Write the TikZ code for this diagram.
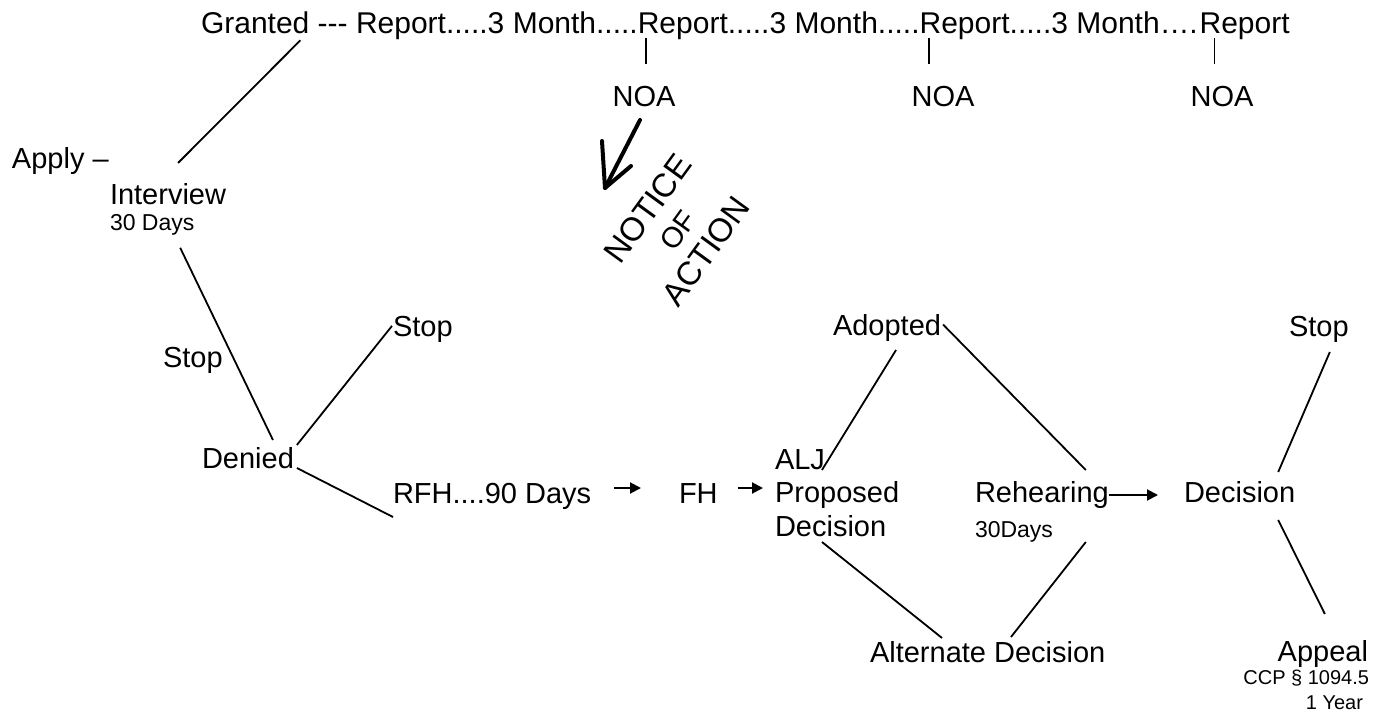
\documentclass[tikz,border=0pt]{standalone}
\usepackage{fontspec}
\setmainfont{Liberation Sans}
\newfontfamily\handfont{Liberation Sans}
\usetikzlibrary{calc,arrows.meta}

\tikzset{
  lbl/.style={inner sep=0pt, outer sep=0pt, anchor=base west, font=\fontsize{29}{33}\selectfont},
  toprow/.style={lbl, font=\fontsize{30}{34}\selectfont},
  sm/.style={lbl, font=\fontsize{23}{26}\selectfont},
  xs/.style={lbl, anchor=base east, font=\fontsize{20}{23}\selectfont},
  link/.style={line width=1.8pt},
  arr/.style={line width=2pt, -{Triangle[length=11pt,width=11pt]}},
  hand/.style={inner sep=0pt, align=center, font=\handfont\fontsize{33}{36}\selectfont},
  ink/.style={line width=4pt, line cap=round, line join=round},
}

\begin{document}
\begin{tikzpicture}[x=1pt,y=-1pt]
\useasboundingbox (0,0) rectangle (1376,715);
\fill[white] (0,0) rectangle (1376,715);

% --- reporting cycle after the grant
\node[toprow] (granted) at (201,33) {Granted};
\node[toprow] (seg0) at (granted.base east) {\ \mbox{-}\mbox{-}\mbox{-} Report.....3 Month.....};
\node[toprow] (rep1) at (seg0.base east) {Report};
\node[toprow] (seg1) at (rep1.base east) {.....3 Month.....};
\node[toprow] (rep2) at (seg1.base east) {Report};
\node[toprow] (seg2) at (rep2.base east) {.....3 Month\hspace{1.5pt}.\hspace{1pt}.\hspace{1pt}.\hspace{1pt}.};
\node[toprow] (rep3) at ($(seg2.base east)+(2,0)$) {Report};

\node[lbl, anchor=base] (noa1) at (644,106) {NOA};
\node[lbl, anchor=base] (noa2) at (943,106) {NOA};
\node[lbl, anchor=base] (noa3) at (1222,106) {NOA};

\coordinate (t1) at ($(rep1.base west)+(8,5)$);
\coordinate (t2) at ($(rep2.base west)+(9,5)$);
\coordinate (t3) at ($(rep3.base west)+(15,5)$);
\draw[link, shorten >=22pt] (t1) -- (t1 |- noa1.north);
\draw[link, shorten >=22pt] (t2) -- (t2 |- noa2.north);
\draw[link, shorten >=22pt] (t3) -- (t3 |- noa3.north);

% --- application and denial branch
\node[lbl] (apply) at (12,168) {Apply –};
\node[lbl] (interview) at (110,204) {Interview};
\node[sm] (days1) at (110,230) {30 Days};
\node[lbl] (stop1) at (163,367) {Stop};
\node[lbl] (denied) at (202,468) {Denied};
\node[lbl] (stop2) at (393,336) {Stop};
\node[lbl] (rfh) at (393,503) {RFH....90 Days};
\node[lbl] (fh) at (679,503) {FH};

\draw[link] ($(granted.south east)+(-9,7)$) -- ($(interview.north)+(10,-20)$);
\draw[link] ($(days1.south)+(28,13)$) -- ($(denied.north)+(25,-7)$);
\draw[link] ($(denied.north east)+(3,-2)$) -- ($(stop2.west)+(-1,-3)$);
\draw[link] ($(denied.base east)+(3,0)$) -- ($(rfh.base west)+(0,14)$);

\draw[arr] ($(rfh.base east)+(23,-15)$) -- ($(fh.base west)+(-38,-15)$);

% --- hearing and decisions
\node[lbl] (alj) at (775,469) {ALJ};
\node[lbl] (prop) at (775,502) {Proposed};
\node[lbl] (pdec) at (775,536) {Decision};
\node[lbl] (adopted) at (833,335) {Adopted};
\node[lbl] (rehear) at (975,502) {Rehearing};
\node[sm] (days2) at (975,537) {30Days};
\node[lbl] (dec) at (1184,502) {Decision};
\node[lbl] (stop3) at (1289,336) {Stop};
\node[lbl] (alt) at (870,662) {Alternate Decision};
\node[lbl, anchor=base east] (appeal) at (1368,661) {Appeal};
\node[xs] (ccp) at (1369,684) {CCP § 1094.5};
\node[xs] (year) at (1363,709) {1 Year};

\draw[arr] ($(fh.base east)+(20,-15)$) -- ($(prop.base west)+(-12,-14)$);
\draw[link] ($(adopted.south)+(9,9)$) -- ($(alj.base east)+(-3,1)$);
\draw[link] ($(adopted.east)+(2,-3)$) -- ($(rehear.north east)+(-23,-11)$);
\draw[arr] ($(rehear.base east)+(0,-7)$) -- ($(dec.base west)+(-26,-7)$);
\draw[link] ($(dec.north east)+(-17,-9)$) -- ($(stop3.south)+(11,10)$);
\draw[link] ($(dec.base east)+(-17,18)$) -- ($(appeal.north)+(2,-26)$);
\draw[link] ($(pdec.base west)+(47,6)$) -- ($(alt.north west)+(72,-3)$);
\draw[link] ($(rehear.base east)+(-23,40)$) -- ($(alt.north west)+(141,-4)$);

% --- handwritten note
\coordinate (inkTail) at (640,120);
\coordinate (inkTip) at (605,188);
\draw[ink] (inkTail) -- (inkTip);
\draw[ink] ($(inkTip)+(-3,-47)$) -- (inkTip) -- ($(inkTip)+(26,-22)$);
\node[hand, rotate=54] (note) at (677,230) {NOTICE\\{\fontsize{29}{36}\selectfont OF}\\ACTION};
\end{tikzpicture}
\end{document}
